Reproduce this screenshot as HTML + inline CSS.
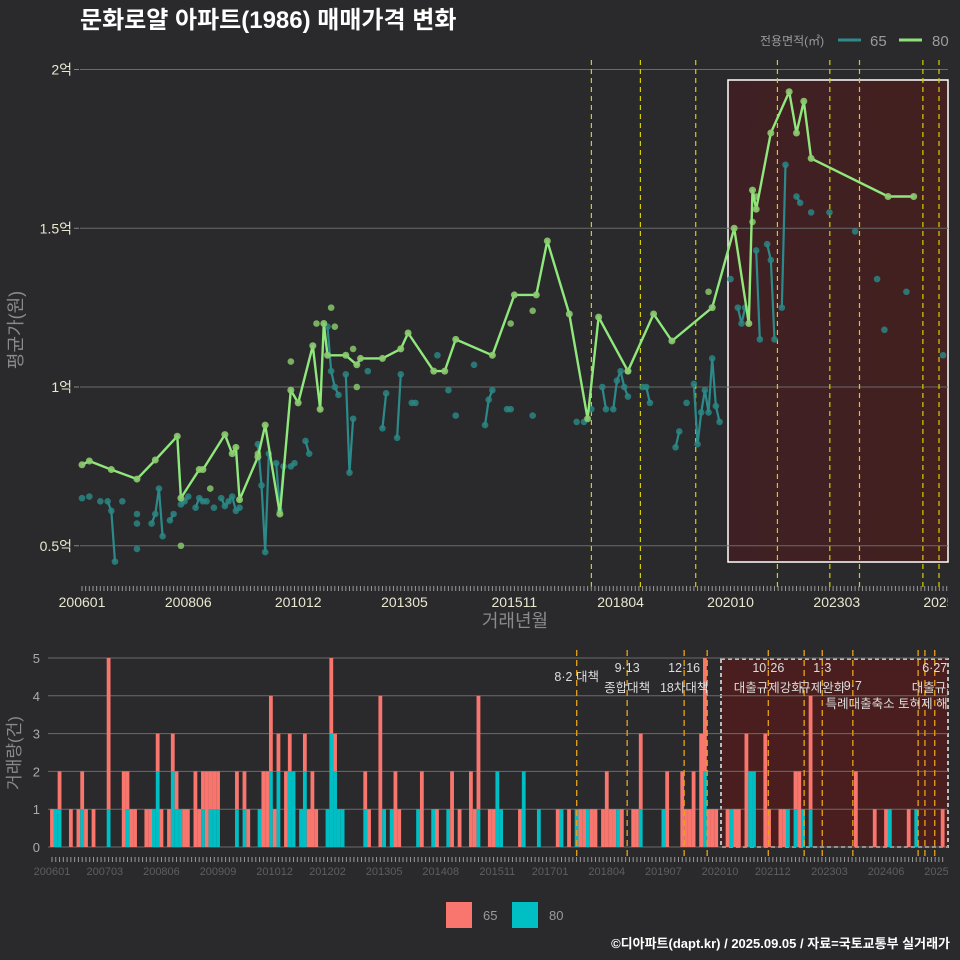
<!DOCTYPE html>
<html><head><meta charset="utf-8">
<style>
html,body{margin:0;padding:0;background:#2a2a2c;}
svg{display:block;font-family:"Liberation Sans","Noto Sans CJK KR",sans-serif;}
</style></head>
<body>
<svg id="chart" width="960" height="960" viewBox="0 0 960 960">
<defs>
<clipPath id="clipR"><rect x="0" y="0" width="948" height="960"/></clipPath>
</defs>
<rect x="0" y="0" width="960" height="960" fill="#2a2a2c"/>
<text x="80" y="28" fill="#ffffff" font-size="24" font-weight="bold">문화로얄 아파트(1986) 매매가격 변화</text>
<g>
<text x="760" y="45" fill="#9a9a9a" font-size="12">전용면적(㎡)</text>
<line x1="838" y1="40" x2="861" y2="40" stroke="#2d8a8a" stroke-width="3"/>
<text x="870" y="46" fill="#9a9a9a" font-size="15">65</text>
<line x1="899" y1="40" x2="922" y2="40" stroke="#8fe07a" stroke-width="3"/>
<text x="932" y="46" fill="#9a9a9a" font-size="15">80</text>
</g>
<g id="topPanel"></g>
<g id="botPanel"></g>
<g>
<rect x="446" y="902" width="26" height="26" fill="#f8766d"/>
<text x="483" y="920" fill="#9a9a9a" font-size="13">65</text>
<rect x="512" y="902" width="26" height="26" fill="#00bfc4"/>
<text x="549" y="920" fill="#9a9a9a" font-size="13">80</text>
</g>
<text x="950" y="948" fill="#ffffff" font-size="13" font-weight="bold" text-anchor="end">©디아파트(dapt.kr) / 2025.09.05 / 자료=국토교통부 실거래가</text>
</svg>
<script>
// month index = months since 2006-01
const xTickLabels = ["200601","200806","201012","201305","201511","201804","202010","202303","202509"];
const xTickMonths = [0,29,59,88,118,147,177,206,236];
const botTickLabels = ["200601","200703","200806","200909","201012","201202","201305","201408","201511","201701","201804","201907","202010","202112","202303","202406","202509"];
const botTickMonths = [0,14,29,44,59,73,88,103,118,132,147,162,177,191,206,221,236];
const yTicks = [0.5,1,1.5,2];
const yTickLabels = ["0.5억","1억","1.5억","2억"];
const line80Months = [0,2,8,15,20,26,27,32,33,39,41,42,43,48,50,54,57,59,63,65,66,67,72,75,76,82,87,89,96,99,102,112,118,124,127,133,138,141,149,156,161,172,178,182,183,184,188,193,195,197,199,220,227];
const line80Values = [0.755,0.767,0.74,0.71,0.77,0.845,0.65,0.74,0.74,0.85,0.79,0.81,0.645,0.78,0.88,0.6,0.99,0.95,1.13,0.93,1.2,1.1,1.1,1.07,1.09,1.09,1.12,1.17,1.05,1.05,1.15,1.1,1.29,1.29,1.46,1.23,0.9,1.22,1.05,1.23,1.145,1.25,1.5,1.2,1.62,1.56,1.8,1.93,1.8,1.9,1.72,1.6,1.6];
const extra80Months = [27,35,48,57,64,68,69,74,75,117,123,149,171,183,184];
const extra80Values = [0.5,0.68,0.79,1.08,1.2,1.25,1.19,1.12,1.0,1.2,1.24,1.05,1.3,1.52,1.6];
const pts65Months = [0,2,5,7,8,9,11,15,15,15,19,20,21,22,24,25,27,28,29,31,32,33,34,36,38,39,40,41,42,43,48,49,50,51,53,54,55,57,58,61,62,67,68,69,70,72,73,74,78,82,83,86,87,90,91,97,100,102,107,110,111,112,116,117,123,135,137,139,142,143,145,146,147,148,149,153,154,155,162,163,165,167,168,169,170,171,172,173,174,177,179,180,181,184,185,187,188,189,191,192,195,196,199,204,211,217,219,225,235];
const pts65Values = [0.65,0.655,0.64,0.64,0.61,0.45,0.64,0.57,0.6,0.49,0.57,0.6,0.68,0.53,0.58,0.6,0.63,0.64,0.655,0.62,0.65,0.64,0.64,0.62,0.65,0.625,0.64,0.655,0.61,0.62,0.82,0.69,0.48,0.79,0.76,0.61,0.75,0.75,0.76,0.83,0.79,1.19,1.05,1.0,0.975,1.04,0.73,0.9,1.05,0.87,0.98,0.84,1.04,0.95,0.95,1.1,0.99,0.91,1.07,0.88,0.96,0.99,0.93,0.93,0.91,0.89,0.89,0.93,1.0,0.93,0.93,1.02,1.05,1.0,0.97,1.0,1.0,0.95,0.81,0.86,0.95,1.01,0.82,0.92,0.99,0.92,1.09,0.94,0.89,1.34,1.25,1.2,1.25,1.43,1.15,1.45,1.4,1.15,1.25,1.7,1.6,1.58,1.55,1.55,1.49,1.34,1.18,1.3,1.1];
const barMonths = [0,1,2,5,7,8,9,11,15,19,20,21,22,25,26,27,28,29,31,32,33,34,35,36,38,39,40,41,42,43,44,49,51,52,55,56,57,58,59,60,62,63,64,66,67,68,69,70,73,74,75,76,77,83,84,87,88,90,91,92,97,98,101,102,105,106,108,111,112,113,116,117,118,119,124,125,129,134,135,137,139,140,141,142,143,144,146,147,148,149,150,151,154,155,156,162,163,167,168,169,170,172,173,174,175,176,179,180,181,182,184,185,186,189,190,193,194,195,197,198,199,201,213,218,221,222,227,229,236];
const count80 = [0,1,1,0,0,1,0,0,1,0,1,0,0,0,0,1,2,0,0,2,1,1,0,0,0,0,1,0,1,1,1,1,1,0,1,0,0,2,0,2,0,2,2,1,2,0,0,0,1,3,2,1,1,1,0,0,1,1,0,0,1,0,1,0,1,0,0,0,0,1,0,0,2,1,0,2,1,0,1,0,1,0,0,1,0,0,0,0,0,0,1,0,0,0,1,1,0,0,0,0,0,0,2,0,0,0,0,1,0,0,0,2,2,0,0,0,0,1,1,0,1,1,0,0,0,1,0,1,0];
const count65 = [1,0,1,1,1,1,1,1,4,2,1,1,1,1,1,0,1,1,1,1,1,0,1,1,2,1,1,2,1,1,1,1,1,1,0,2,2,2,1,1,2,1,0,0,1,1,2,1,0,2,1,0,0,1,1,4,0,0,2,1,0,2,0,1,0,2,1,2,1,3,1,1,0,0,1,0,0,1,0,1,0,1,1,0,1,1,1,2,1,1,0,1,1,1,2,0,2,2,1,1,2,3,3,1,1,1,1,0,1,1,3,0,0,3,1,1,1,0,1,2,0,3,2,1,1,0,1,0,1];
const policyMonths = [139.03,152.4,167.5,189.8,204.1,212.2,229.5,233.9];
const botPolicyMonths = [139.03,152.4,167.5,173.6,189.8,199.3,204.1,212.2,229.5,231.3,233.9];
const annotations = [["8·2 대책",139.03,681,"middle"],["9·13",152.4,672,"middle"],["종합대책",152.4,692,"middle"],["12·16",167.5,672,"middle"],["18차대책",167.5,692,"middle"],["10·26",189.8,672,"middle"],["대출규제강화",189.8,692,"middle"],["1·3",204.1,672,"middle"],["규제완화",204.1,692,"middle"],["9·7",212.2,690,"middle"],["특례대출축소 토허제 해제",205.0,708,"start"],["6·27",233.9,672,"middle"],["대출규제",233.9,692,"middle"]];

const NS="http://www.w3.org/2000/svg";
function el(tag,attrs,parent){const e=document.createElementNS(NS,tag);for(const k in attrs)e.setAttribute(k,attrs[k]);parent.appendChild(e);return e;}
const topG=document.getElementById('topPanel'), botG=document.getElementById('botPanel');
const xT=m=>82+m*3.664;
const yT=v=>387-(v-1)*317.5;
const xB=m=>52+m*3.774;
const yB=c=>847-c*37.8;

// ---- top panel
const defs=el('defs',{},topG);
const grad=el('linearGradient',{id:'hl',x1:'0',x2:'1',y1:'0',y2:'0'},defs);
el('stop',{offset:'0','stop-color':'#3e2024'},grad);el('stop',{offset:'1','stop-color':'#44201f'},grad);
const hl=el('rect',{x:728,y:80,width:220,height:482,fill:'url(#hl)',stroke:'#ffffff','stroke-width':1.5},topG);


yTicks.forEach((v,i)=>{
  const l=el('line',{x1:80,x2:948,y1:yT(v),y2:yT(v),stroke:'#6a6a6a','stroke-width':1},topG);
  
  
  const tk=el('line',{x1:74,x2:79,y1:yT(v),y2:yT(v),stroke:'#888'},topG);
  
  
  const t=el('text',{x:72,y:yT(v)+5,fill:'#e8e8d0','font-size':14,'text-anchor':'end'},topG);t.textContent=yTickLabels[i];
  
  
});
policyMonths.forEach(m=>{
  const l=el('line',{x1:xT(m),x2:xT(m),y1:60,y2:590,stroke:'#d4d000','stroke-width':1.2,'stroke-dasharray':'5,4'},topG);
  
  
});
for(let m=0;m<=236;m++){
  const t=el('line',{x1:xT(m),x2:xT(m),y1:586,y2:591,stroke:'#999','stroke-width':1},topG);
  
  
}
const xlab=el('g',{'clip-path':'url(#clipR)'},topG);


xTickLabels.forEach((s,i)=>{
  const t=el('text',{x:xT(xTickMonths[i]),y:607,fill:'#e8e8d0','font-size':14,'text-anchor':'middle'},xlab);t.textContent=s;
  
  
});
const xt=el('text',{x:515,y:627,fill:'#8a8a8a','font-size':18,'text-anchor':'middle'},topG);xt.textContent='거래년월';


const yt=el('text',{x:0,y:0,fill:'#8a8a8a','font-size':18,'text-anchor':'middle',transform:'translate(22,330) rotate(-90)'},topG);yt.textContent='평균가(원)';


const n65=Math.min(pts65Months.length,pts65Values.length);
for(let i=1;i<n65;i++){
  if(pts65Months[i]-pts65Months[i-1]===1){
    const l=el('line',{x1:xT(pts65Months[i-1]),y1:yT(pts65Values[i-1]),x2:xT(pts65Months[i]),y2:yT(pts65Values[i]),stroke:'#2d8a8a','stroke-width':2.2},topG);
    
    
  }
}
for(let i=0;i<n65;i++){
  const c=el('circle',{cx:xT(pts65Months[i]),cy:yT(pts65Values[i]),r:3.3,fill:'#2a8684','fill-opacity':0.85},topG);
  
  
}
extra80Months.forEach((m,i)=>{
  const c=el('circle',{cx:xT(m),cy:yT(extra80Values[i]),r:3.3,fill:'#86c86a','fill-opacity':0.85},topG);
  
  
});
const pth=line80Months.map((m,i)=>(i?'L':'M')+xT(m).toFixed(1)+','+yT(line80Values[i]).toFixed(1)).join('');
const ln=el('path',{d:pth,fill:'none',stroke:'#90e87c','stroke-width':2.4,'stroke-linejoin':'round'},topG);


line80Months.forEach((m,i)=>{
  const c=el('circle',{cx:xT(m),cy:yT(line80Values[i]),r:3.5,fill:'#8ccc70','fill-opacity':0.9},topG);
  
  
});

// ---- bottom panel
const hb=el('rect',{x:721,y:659,width:227,height:188,fill:'#4a1e1e',stroke:'#bbbbbb','stroke-width':2,'stroke-dasharray':'4,3'},botG);


[0,1,2,3,4,5].forEach(c=>{
  const l=el('line',{x1:48,x2:948,y1:yB(c),y2:yB(c),stroke:'#6a6a6a','stroke-width':1},botG);
  
  
  const t=el('text',{x:40,y:yB(c)+5,fill:'#aaaaaa','font-size':13,'text-anchor':'end'},botG);t.textContent=c;
  
  
});
barMonths.forEach((m,i)=>{
  const x=xB(m)-1.9, w=3.8;
  const c8=count80[i]||0, c6=count65[i]||0;
  if(c8>0){const r=el('rect',{x:x,y:yB(c8),width:w,height:c8*37.8,fill:'#00bfc4'},botG);
    
    }
  if(c6>0){const r=el('rect',{x:x,y:yB(c8+c6),width:w,height:c6*37.8,fill:'#f8766d'},botG);
    
    }
});
botPolicyMonths.forEach(m=>{
  const l=el('line',{x1:xB(m),x2:xB(m),y1:650,y2:858,stroke:'#e8a317','stroke-width':1.3,'stroke-dasharray':'6,4'},botG);
  
  
});
const ann=el('g',{'clip-path':'url(#clipR)'},botG);


annotations.forEach(a=>{
  const t=el('text',{x:xB(a[1]),y:a[2],fill:'#dddddd','font-size':12.5,'text-anchor':a[3]},ann);t.textContent=a[0];
  
  
});
for(let m=0;m<=236;m++){
  const t=el('line',{x1:xB(m),x2:xB(m),y1:857,y2:862,stroke:'#999','stroke-width':1},botG);
  
  
}
const blab=el('g',{'clip-path':'url(#clipR)'},botG);


botTickLabels.forEach((s,i)=>{
  const t=el('text',{x:xB(botTickMonths[i]),y:875,fill:'#5e5e5e','font-size':11,'text-anchor':'middle'},blab);t.textContent=s;
  
  
});
const yt2=el('text',{x:0,y:0,fill:'#8a8a8a','font-size':17,'text-anchor':'middle',transform:'translate(20,753) rotate(-90)'},botG);yt2.textContent='거래량(건)';


</script>
</body></html>
